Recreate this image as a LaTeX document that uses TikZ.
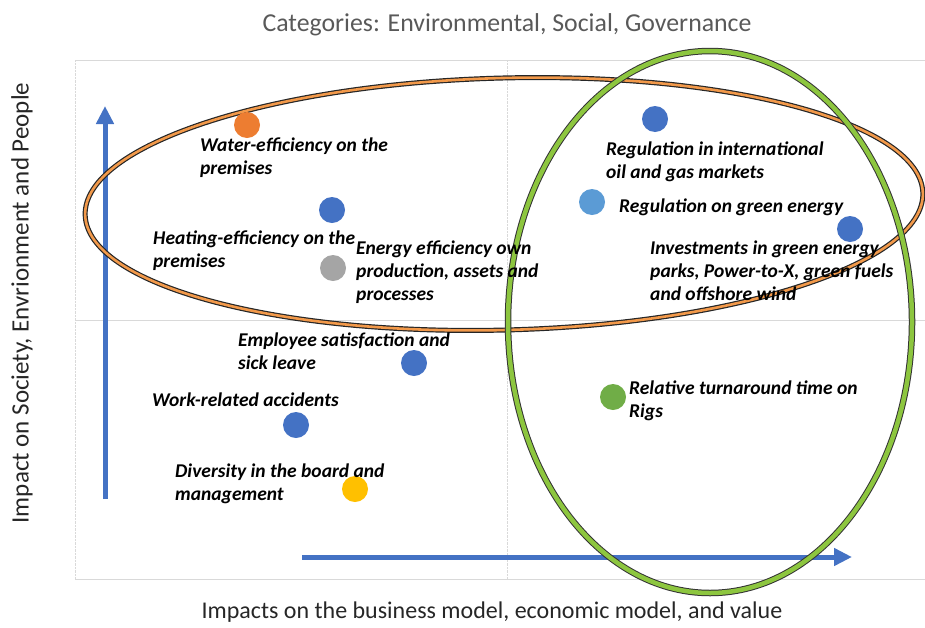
\documentclass[tikz,border=0pt]{standalone}
\usepackage{fontspec}
\setmainfont{Carlito}
\usepackage{tikz}
\usetikzlibrary{arrows.meta}

\definecolor{esgblue}{HTML}{4472C4}
\definecolor{esglight}{HTML}{5B9BD5}
\definecolor{esgorange}{HTML}{ED7D31}
\definecolor{esggray}{HTML}{A5A5A5}
\definecolor{esgyellow}{HTML}{FFC000}
\definecolor{esggreen}{HTML}{70AD47}
\definecolor{ringgreen}{HTML}{8DC63F}
\definecolor{ringorange}{HTML}{F2994A}
\definecolor{gridgray}{HTML}{D9D9D9}

\tikzset{
  dot/.style={circle, fill=#1, minimum size=26pt, inner sep=0pt},
  lbl/.style={anchor=north west, align=left, inner sep=0pt,
    font=\fontsize{19.5}{23}\selectfont\bfseries\itshape},
  axis/.style={esgblue, line width=5pt, -{Triangle[length=18pt,width=17pt]}},
}

\begin{document}
\begin{tikzpicture}[x=1pt,y=-1pt]
    \useasboundingbox (0,0) rectangle (925,627);
    % plot area and quadrant lines
    \draw[gridgray] (75,60) -- (925,60);
    \draw[gridgray] (75,579) -- (925,579);
    \draw[gridgray] (75,320) -- (925,320);
    \draw[gridgray, densely dotted] (75,60) -- (75,579);
    \draw[gridgray, densely dotted] (507,60) -- (507,579);

    \node[text=black!65, font=\fontsize{25.8}{30}\selectfont] (title) at (507,25)
      {Categories: Environmental, Social, Governance};
    \node[text=black!85, font=\fontsize{24}{28}\selectfont] (xlabel) at (492,612)
      {Impacts on the business model, economic model, and value};
    \node[text=black!85, font=\fontsize{25}{29}\selectfont, rotate=90] (ylabel) at (22,303)
      {Impact on Society, Envrionment and People};

    % axis arrows
    \coordinate (ybot) at (105,499);
    \coordinate (ytop) at (105,106);
    \coordinate (xleft) at (302,557);
    \coordinate (xright) at (852,557);
    \draw[axis] (ybot) -- (ytop);
    \draw[axis] (xleft) -- (xright);

    % group rings
    \draw[black!85, line width=5pt, rotate around={1.5:(504,204)}] (504,204) ellipse [x radius=419, y radius=126];
    \draw[ringorange, line width=2.6pt, rotate around={1.5:(504,204)}] (504,204) ellipse [x radius=419, y radius=126];
    \draw[black!80, line width=6.5pt] (710,322) ellipse [x radius=202, y radius=271];
    \draw[ringgreen, line width=4.5pt] (710,322) ellipse [x radius=202, y radius=271];

    % topics
    \node[dot=esgorange] (water) at (247,125) {};
    \node[dot=esgblue] (heating) at (332,210) {};
    \node[dot=esggray] (energy) at (333,268) {};
    \node[dot=esgblue] (regint) at (655,119) {};
    \node[dot=esglight] (reggreen) at (592,202) {};
    \node[dot=esgblue] (invest) at (850,229) {};
    \node[dot=esgblue] (employee) at (414,363) {};
    \node[dot=esgblue] (work) at (296,425) {};
    \node[dot=esgyellow] (diversity) at (355,489) {};
    \node[dot=esggreen] (rigs) at (613,397) {};

    \node[lbl] (waterlbl) at (200,138) {Water-efficiency on the\\premises};
    \node[lbl] (heatinglbl) at (153,231) {Heating-efficiency on the\\premises};
    \node[lbl] (energylbl) at (356,241) {Energy efficiency own\\production, assets and\\processes};
    \node[lbl] (regintlbl) at (606,142) {Regulation in international\\oil and gas markets};
    \node[lbl] (reggreenlbl) at (619,199) {Regulation on green energy};
    \node[lbl] (investlbl) at (650,241) {Investments in green energy\\parks, Power-to-X, green fuels\\and offshore wind};
    \node[lbl] (employeelbl) at (238,333) {Employee satisfaction and\\sick leave};
    \node[lbl] (worklbl) at (152,393) {Work-related accidents};
    \node[lbl] (diversitylbl) at (175,464) {Diversity in the board and\\management};
    \node[lbl] (rigslbl) at (629,381) {Relative turnaround time on\\Rigs};
\end{tikzpicture}
\end{document}
